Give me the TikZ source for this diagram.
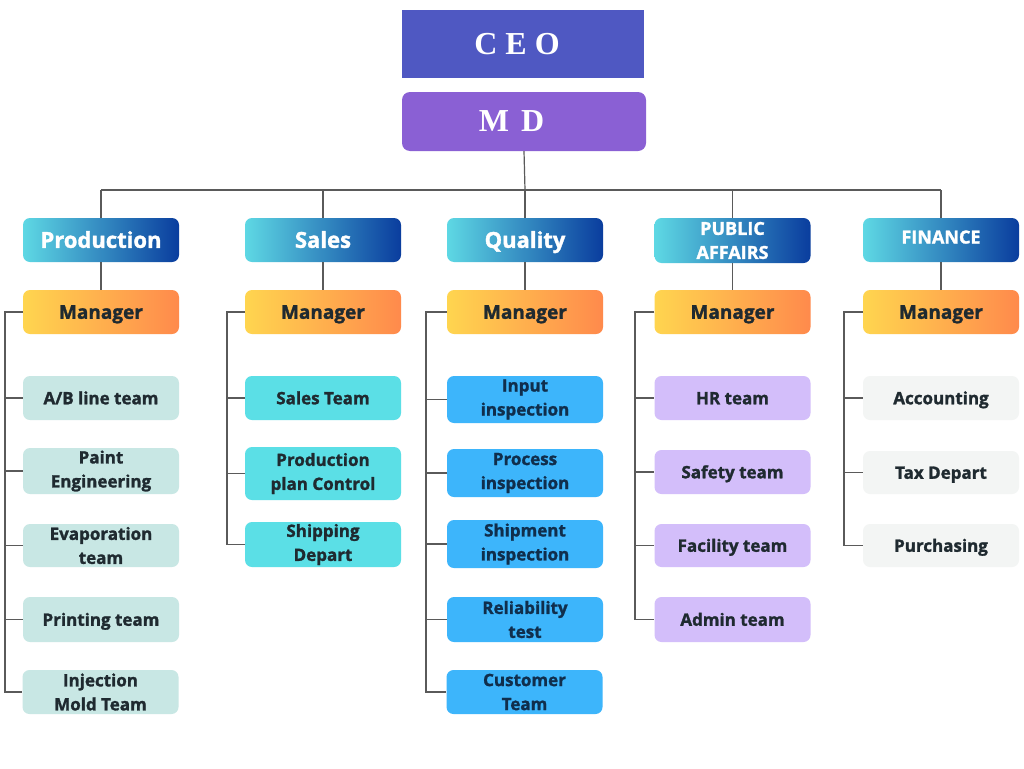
\documentclass[tikz,border=0pt]{standalone}
\usepackage{fontspec}
\setmainfont{Open Sans}[BoldFeatures={FakeBold=1.5}]
\newfontfamily\ceofont{Liberation Serif}
\definecolor{ceoblue}{HTML}{4F58C2}
\definecolor{mdpurple}{HTML}{8A60D4}
\definecolor{hleft}{HTML}{5ED8E4}
\definecolor{hright}{HTML}{0A3D9E}
\definecolor{mleft}{HTML}{FFD54F}
\definecolor{mright}{HTML}{FF8A4C}
\definecolor{prodfill}{HTML}{C8E7E4}
\definecolor{salesfill}{HTML}{5BDFE6}
\definecolor{qualfill}{HTML}{3DB5FB}
\definecolor{pubfill}{HTML}{D3BEFA}
\definecolor{finfill}{HTML}{F3F5F4}
\definecolor{darktext}{HTML}{1F2A30}
\definecolor{navytext}{HTML}{102E4C}
\definecolor{linegray}{HTML}{5A5A5A}
\tikzset{
  box/.style={rounded corners=7pt, inner sep=0pt, minimum width=156pt, minimum height=44pt, align=center, font=\fontsize{17}{24}\selectfont\bfseries, text=darktext},
  one/.style={text height=17.5pt, text depth=5pt},
  headbox/.style={box, left color=hleft, right color=hright, text=white, font=\fontsize{22}{24}\selectfont\bfseries},
  headone/.style={headbox, text height=20.7pt, text depth=5pt},
  headsmall/.style={headbox, font=\fontsize{18}{24}\selectfont\bfseries},
  mgrbox/.style={box, left color=mleft, right color=mright, font=\fontsize{19}{24}\selectfont\bfseries, text height=18.6pt, text depth=5pt},
  prodbox/.style={box, fill=prodfill},
  salesbox/.style={box, fill=salesfill},
  qualbox/.style={box, fill=qualfill, text=navytext},
  pubbox/.style={box, fill=pubfill, text=darktext},
  finbox/.style={box, fill=finfill, text=darktext},
  topbox/.style={minimum height=59pt, inner sep=0pt, text=white, font=\ceofont\fontsize{32}{34}\selectfont\bfseries},
  conn/.style={draw=linegray, line width=1.2pt}
}
\begin{document}
\begin{tikzpicture}[x=1pt,y=-1pt]
\fill[white] (0,0) rectangle (1024,768);
\useasboundingbox (0,0) rectangle (1024,768);

% top
\node[topbox, fill=ceoblue, minimum width=242pt, minimum height=68pt] (ceo) at (523,44) {C E O\hspace*{12pt}};
\node[topbox, fill=mdpurple, rounded corners=8pt, minimum width=244pt] (md) at (524,121.5) {M\hspace{12pt}D\hspace*{25pt}};

% headers
\node[headone] (ph) at (101,240) {Production};
\node[headone] (sh) at (323,240) {Sales};
\node[headone] (qh) at (525,240) {Quality};
\node[headsmall, minimum height=45pt] (ah) at (732.5,240.5) {PUBLIC\\AFFAIRS};
\node[headsmall, text height=12pt, text depth=5pt] (fh) at (941,240) {FINANCE};

% managers
\node[mgrbox] (pm) at (101,312) {Manager};
\node[mgrbox] (sm) at (323,312) {Manager};
\node[mgrbox] (qm) at (525,312) {Manager};
\node[mgrbox] (am) at (732.5,312) {Manager};
\node[mgrbox] (fm) at (941,312) {Manager};

% production teams
\node[prodbox, one] (p1) at (101,398) {A/B line team};
\node[prodbox, minimum height=46pt] (p2) at (101,471) {Paint\\Engineering};
\node[prodbox, minimum height=43pt] (p3) at (101,545.5) {Evaporation\\team};
\node[prodbox, one, minimum height=45pt] (p4) at (101,619.5) {Printing team};
\node[prodbox] (p5) at (100.5,692) {Injection\\Mold Team};

% sales teams
\node[salesbox, one] (s1) at (323,398) {Sales Team};
\node[salesbox, minimum height=53pt] (s2) at (323,473.5) {Production\\plan Control};
\node[salesbox, minimum height=45pt] (s3) at (323,544.5) {\raisebox{-2pt}{Shipping}\\\raisebox{-2pt}{Depart}};

% quality teams
\node[qualbox, minimum height=47pt] (q1) at (525,399.5) {Input\\inspection};
\node[qualbox, minimum height=48pt] (q2) at (525,473) {Process\\inspection};
\node[qualbox, minimum height=48pt] (q3) at (525,544) {Shipment\\inspection};
\node[qualbox, minimum height=45pt] (q4) at (525,619.5) {Reliability\\test};
\node[qualbox] (q5) at (524.5,692) {Customer\\Team};

% public affairs teams
\node[pubbox, one] (a1) at (732.5,398) {HR team};
\node[pubbox, one] (a2) at (732.5,472) {Safety team};
\node[pubbox, one, minimum height=43pt] (a3) at (732.5,545.5) {Facility team};
\node[pubbox, one, minimum height=45pt] (a4) at (732.5,619.5) {Admin team};

% finance teams
\node[finbox, one] (f1) at (941,398) {Accounting};
\node[finbox, one, minimum height=43pt] (f2) at (941,472.5) {Tax Depart};
\node[finbox, one, minimum height=43pt] (f3) at (941,545.5) {Purchasing};

% bus
\coordinate (bus) at (525,190);
\draw[conn] (md.south) -- (bus);
\draw[conn] (ph.north |- bus) -- (fh.north |- bus);
\foreach \h in {ph,sh,qh,ah,fh} {\draw[conn] (\h.north |- bus) -- (\h.north);}
\draw[conn] (ph.south) -- (pm.north);
\draw[conn] (sh.south) -- (sm.north);
\draw[conn] (qh.south) -- (qm.north);
\draw[conn] (ah.south) -- (am.north);
\draw[conn] (fh.south) -- (fm.north);

% branches
\coordinate (pv) at (5,0);
\coordinate (sv) at (227,0);
\coordinate (qv) at (426,0);
\coordinate (av) at (635,0);
\coordinate (fv) at (844,0);

\draw[conn] (pm.west) -- (pm.west -| pv) -- (p5.west -| pv) -- (p5.west);
\foreach \t in {p1,p2,p3,p4} {\draw[conn] (\t.west -| pv) -- (\t.west);}
\draw[conn] (sm.west) -- (sm.west -| sv) -- (s3.west -| sv) -- (s3.west);
\foreach \t in {s1,s2} {\draw[conn] (\t.west -| sv) -- (\t.west);}
\draw[conn] (qm.west) -- (qm.west -| qv) -- (q5.west -| qv) -- (q5.west);
\foreach \t in {q1,q2,q3,q4} {\draw[conn] (\t.west -| qv) -- (\t.west);}
\draw[conn] (am.west) -- (am.west -| av) -- (a4.west -| av) -- (a4.west);
\foreach \t in {a1,a2,a3} {\draw[conn] (\t.west -| av) -- (\t.west);}
\draw[conn] (fm.west) -- (fm.west -| fv) -- (f3.west -| fv) -- (f3.west);
\foreach \t in {f1,f2} {\draw[conn] (\t.west -| fv) -- (\t.west);}
\end{tikzpicture}
\end{document}
